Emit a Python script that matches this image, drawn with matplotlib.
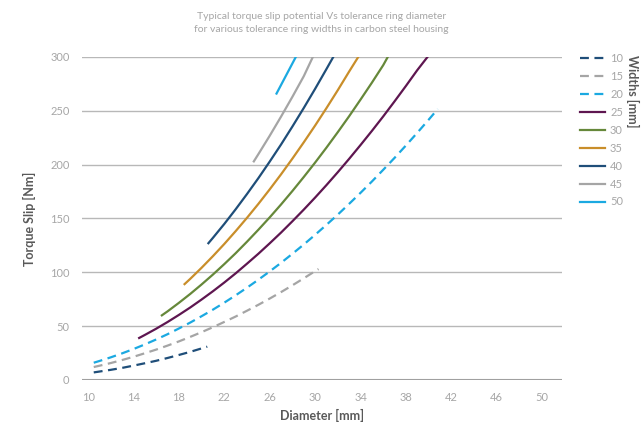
import matplotlib.pyplot as plt
from matplotlib.lines import Line2D

plt.rcParams['font.family'] = ['Lato', 'DejaVu Sans']

# torque slip [Nm] vs diameter [mm], one curve per ring width [mm]
d10 = [10.5, 11, 12, 13, 14, 15, 16, 17, 18, 19, 20, 20.5]
t10 = [7.0, 7.8, 9.4, 11.2, 13.3, 15.5, 17.8, 20.4, 23.2, 26.1, 29.3, 30.9]

d15 = [10.5, 11, 12, 13, 14, 15, 16, 17, 18, 19, 20, 21, 22, 23, 24, 25,
       26, 27, 28, 29, 30, 30.3]
t15 = [12.0, 13.2, 15.7, 18.5, 21.5, 24.8, 28.2, 31.9, 35.8, 40.0, 44.4,
       49.0, 53.9, 58.9, 64.3, 69.8, 75.6, 81.6, 87.9, 94.4, 101.1, 103.0]

d20 = [10.5, 11, 12, 13, 14, 15, 16, 17, 18, 19, 20, 21, 22, 23, 24, 25,
       26, 27, 28, 29, 30, 31, 32, 33, 34, 35, 36, 37, 38, 39, 40, 40.8]
t20 = [16.0, 17.6, 21.0, 24.7, 28.7, 33.0, 37.6, 42.5, 47.8, 53.3, 59.2,
       65.3, 71.8, 78.6, 85.7, 93.1, 100.8, 108.8, 117.2, 125.8, 134.8,
       144.1, 153.6, 163.6, 173.8, 184.3, 195.2, 206.3, 217.8, 229.6, 241.7,
       251.6]

d25 = [14.5, 15, 16, 17, 18, 19, 20, 21, 22, 23, 24, 25, 26, 27, 28, 29,
       30, 31, 32, 33, 34, 35, 36, 37, 38, 39, 39.9]
t25 = [39.0, 41.8, 47.6, 53.8, 60.4, 67.3, 74.7, 82.4, 90.5, 99.0, 108.0,
       117.2, 126.9, 136.9, 147.4, 158.2, 169.4, 181.0, 193.0, 205.4, 218.2,
       231.3, 244.8, 258.8, 273.1, 287.8, 300.0]

d30 = [16.5, 17, 18, 19, 20, 21, 22, 23, 24, 25, 26, 27, 28, 29, 30, 31,
       32, 33, 34, 35, 36, 36.4]
t30 = [60.0, 63.7, 71.6, 79.9, 88.7, 97.9, 107.6, 117.7, 128.4, 139.5,
       151.0, 163.0, 175.5, 188.5, 201.9, 215.8, 230.2, 245.0, 260.4, 276.1,
       292.4, 300.0]

d35 = [18.5, 19, 20, 21, 22, 23, 24, 25, 26, 27, 28, 29, 30, 31, 32, 33, 33.8]
t35 = [89.0, 93.9, 104.2, 115.0, 126.3, 138.2, 150.6, 163.5, 177.0, 191.0,
       205.6, 220.7, 236.3, 252.5, 269.2, 286.5, 300.0]

d40 = [20.6, 21, 22, 23, 24, 25, 26, 27, 28, 29, 30, 31, 31.6]
t40 = [127.0, 132.0, 144.9, 158.5, 172.7, 187.4, 202.8, 218.7, 235.4, 252.6,
       270.4, 288.8, 300.0]

d45 = [24.6, 25, 26, 27, 28, 29, 29.8]
t45 = [203.0, 209.7, 226.8, 244.6, 263.0, 282.1, 300.0]

d50 = [26.6, 27, 28, 28.3]
t50 = [266.0, 274.0, 294.0, 300.0]

widths = ['10', '15', '20', '25', '30', '35', '40', '45', '50']
xticks = [10, 14, 18, 22, 26, 30, 34, 38, 42, 46, 50]
yticks = [0, 50, 100, 150, 200, 250, 300]

navy = '#1f4e79'
grey = '#a5a5a5'
sky = '#1ba9e1'
purple = '#5e1650'
green = '#66883a'
orange = '#c98e2a'
dash = (0, (4, 2.5))

series = [
    (d10, t10, navy, dash),
    (d15, t15, grey, dash),
    (d20, t20, sky, dash),
    (d25, t25, purple, '-'),
    (d30, t30, green, '-'),
    (d35, t35, orange, '-'),
    (d40, t40, navy, '-'),
    (d45, t45, grey, '-'),
    (d50, t50, sky, '-'),
]

fig = plt.figure(figsize=(6.41, 4.25), dpi=100)
ax = fig.add_axes([0.128, 0.106, 0.749, 0.760])

handles = []
for (d, t, c, ls), w in zip(series, widths):
    ax.plot(d, t, color=c, ls=ls, lw=1.6, zorder=3)
    handles.append(Line2D([0], [0], color=c, ls=ls, lw=1.6, label=w))

ax.set_xlim(9.47, 51.76)
ax.set_ylim(0, 300)
ax.set_xticks(xticks)
ax.set_yticks(yticks)
ax.tick_params(length=0, labelsize=8, labelcolor='#a6a6a6', pad=9)
ax.grid(axis='y', color='#b8b8b8', lw=1)
ax.axhline(0, color='#a0a0a0', lw=1.5, zorder=2)
for s in ax.spines.values():
    s.set_visible(False)

ax.set_xlabel('Diameter [mm]', fontsize=9, fontweight='bold', color='#595959', labelpad=4)
ax.set_ylabel('Torque Slip [Nm]', fontsize=9, fontweight='bold', color='#595959', labelpad=10)

fig.text(0.502, 0.961, 'Typical torque slip potential Vs tolerance ring diameter',
         ha='center', va='center', fontsize=7.5, color='#a6a6a6')
fig.text(0.502, 0.930, 'for various tolerance ring widths in carbon steel housing',
         ha='center', va='center', fontsize=7.5, color='#a6a6a6')

leg = fig.legend(handles=handles, loc='upper left', bbox_to_anchor=(0.898, 0.885),
                 frameon=False, fontsize=8, handlelength=2.2, handletextpad=0.5,
                 labelspacing=0.62, borderaxespad=0)
for txt in leg.get_texts():
    txt.set_color('#a6a6a6')

fig.text(0.987, 0.87, 'Widths [mm]', rotation=-90, ha='center', va='top',
         fontsize=9, fontweight='bold', color='#595959')

fig.savefig('out.png', dpi=100)
